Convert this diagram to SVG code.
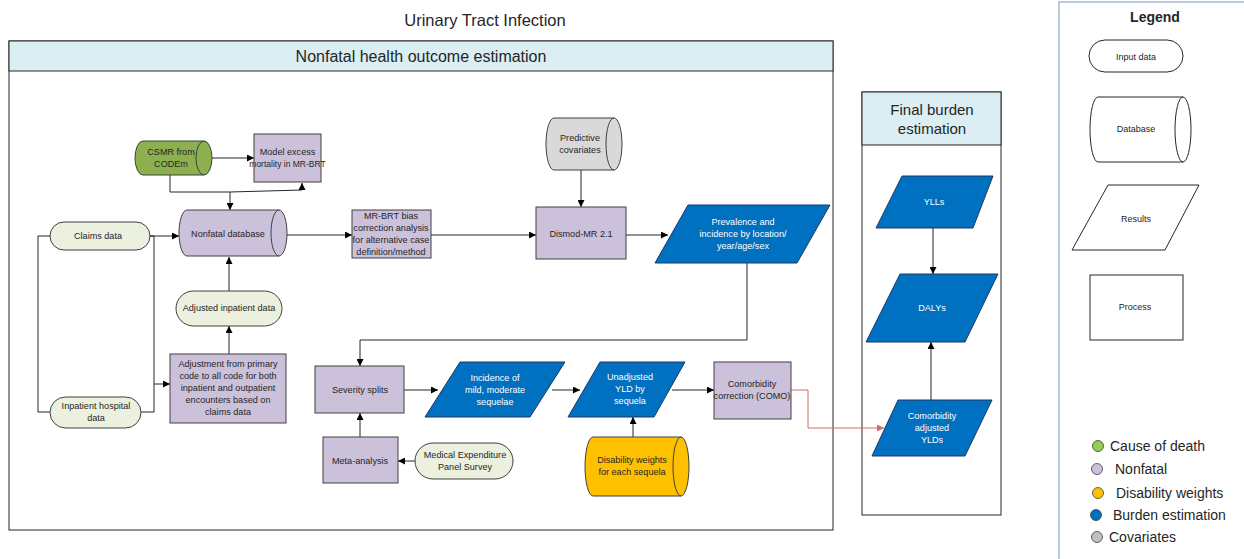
<svg xmlns="http://www.w3.org/2000/svg" width="1244" height="559" viewBox="0 0 1244 559">
<defs>
<marker id="ah" viewBox="0 0 10 10" refX="10" refY="5" markerWidth="7" markerHeight="7" orient="auto" markerUnits="userSpaceOnUse"><path d="M0,0 L10,5 L0,10 Z" fill="#000"/></marker>
<marker id="ahr" viewBox="0 0 10 10" refX="10" refY="5" markerWidth="7" markerHeight="7" orient="auto" markerUnits="userSpaceOnUse"><path d="M0,0 L10,5 L0,10 Z" fill="#D46A6A"/></marker>
<style>
text{font-family:"Liberation Sans",Arial,sans-serif;fill:#262626;text-anchor:middle;dominant-baseline:central}
.t{font-size:9.1px}
.w{fill:#fff}
.proc{fill:#CCC1DA;stroke:#404040;stroke-width:1}
.inp{fill:#EBF1DE;stroke:#404040;stroke-width:1}
.res{fill:#0070C0;stroke:#1F3864;stroke-width:1}
.leg{fill:#fff;stroke:#262626;stroke-width:1}
.lt{font-size:9px}
.ll{font-size:14px;text-anchor:start}
.dot{stroke:#404040;stroke-width:0.8}
.c{fill:none;stroke:#262626;stroke-width:1}
.ca{fill:none;stroke:#262626;stroke-width:1;marker-end:url(#ah)}
</style>
</defs>
<rect width="1244" height="559" fill="#fff"/>
<text x="485" y="20" style="font-size:16.5px">Urinary Tract Infection</text>

<g id="frame-nonfatal">
<rect x="9" y="41" width="824" height="489" fill="#fff" stroke="#262626" stroke-width="1"/>
<rect x="9" y="41" width="824" height="30" fill="#DAEEF3" stroke="#262626" stroke-width="1"/>
<text x="421" y="56" style="font-size:16px">Nonfatal health outcome estimation</text>
</g>
<g id="frame-final">
<rect x="862" y="92" width="139" height="423" fill="#fff" stroke="#262626" stroke-width="1"/>
<rect x="862" y="92" width="139" height="53" fill="#DAEEF3" stroke="#262626" stroke-width="1"/>
<text x="932" y="109" style="font-size:15px">Final burden</text>
<text x="932" y="128" style="font-size:15px">estimation</text>
</g>

<g id="connectors">
<path class="ca" d="M212,158 L254,158"/>
<path class="c" d="M170,175 L170,192 L230,192"/>
<path class="ca" d="M230,192 L230,210"/>
<path class="ca" d="M230,192 L302,190 L302,183"/>
<path class="ca" d="M150,236 L179,236"/>
<path class="c" d="M50,236 L38,236 L38,412 L50,412"/>
<path class="c" d="M150,236 L154,236 L154,412 L141,412"/>
<path class="ca" d="M154,384 L170,384"/>
<path class="ca" d="M229,354 L229,326"/>
<path class="ca" d="M229,291 L229,257"/>
<path class="ca" d="M287,235 L352,235"/>
<path class="ca" d="M431,235 L536,235"/>
<path class="ca" d="M581,170 L581,207"/>
<path class="ca" d="M626,235 L668,235"/>
<path class="ca" d="M747,263 L747,340 L360,340 L360,366"/>
<path class="ca" d="M404,390 L438,390"/>
<path class="ca" d="M552,390 L580,390"/>
<path class="ca" d="M672,390 L714,390"/>
<path class="ca" d="M360,437 L360,413"/>
<path class="ca" d="M415,461 L398,461"/>
<path class="ca" d="M633,437 L633,417"/>
<path fill="none" stroke="#D46A6A" stroke-width="1" marker-end="url(#ahr)" d="M791,390 L808,390 L808,428 L884,428"/>
<path class="ca" d="M933,228 L933,274"/>
<path class="ca" d="M931,400 L931,342"/>
</g>

<g id="csmr">
<path d="M143,141 L204,141 A8,17 0 0 1 204,175 L143,175 A8,17 0 0 1 143,141 Z" fill="#8DB04E" stroke="#404040"/>
<path d="M204,141 A8,17 0 0 0 204,175" fill="none" stroke="#404040"/>
<text x="171" y="152" class="t">CSMR from</text>
<text x="171" y="164" class="t">CODEm</text>
</g>
<g id="model-excess">
<rect x="254" y="134" width="67" height="48" class="proc"/>
<text x="287.5" y="152" class="t">Model excess</text>
<text x="287.5" y="164" class="t" style="font-size:8.5px">mortality in MR-BRT</text>
</g>
<g id="claims">
<rect x="50" y="222" width="100" height="28" rx="14" class="inp"/>
<text x="98" y="236" class="t">Claims data</text>
</g>
<g id="nonfatal-db">
<path d="M187,210 L279,210 A8,23 0 0 1 279,256 L187,256 A8,23 0 0 1 187,210 Z" class="proc"/>
<path d="M279,210 A8,23 0 0 0 279,256" fill="none" stroke="#404040"/>
<text x="228" y="234" class="t">Nonfatal database</text>
</g>
<g id="mrbrt-bias">
<rect x="352" y="210" width="79" height="48" class="proc"/>
<text x="391" y="216" class="t">MR-BRT bias</text>
<text x="391" y="228" class="t">correction analysis</text>
<text x="391" y="240" class="t">for alternative case</text>
<text x="391" y="252" class="t">definition/method</text>
</g>
<g id="covariates">
<path d="M554,118 L614,118 A8,26 0 0 1 614,170 L554,170 A8,26 0 0 1 554,118 Z" fill="#D9D9D9" stroke="#404040"/>
<path d="M614,118 A8,26 0 0 0 614,170" fill="none" stroke="#404040"/>
<text x="580" y="138" class="t">Predictive</text>
<text x="580" y="150" class="t">covariates</text>
</g>
<g id="dismod">
<rect x="536" y="207" width="90" height="52" class="proc"/>
<text x="581" y="234" class="t">Dismod-MR 2.1</text>
</g>
<g id="prevalence">
<path d="M688,205 L830,205 L797,263 L655,263 Z" class="res"/>
<text x="743" y="222" class="t w">Prevalence and</text>
<text x="743" y="234" class="t w">incidence by location/</text>
<text x="743" y="246" class="t w">year/age/sex</text>
</g>
<g id="adjusted-inpatient">
<rect x="176" y="291" width="106" height="35" rx="17.5" class="inp"/>
<text x="229" y="308" class="t">Adjusted inpatient data</text>
</g>
<g id="adjustment">
<rect x="170" y="354" width="116" height="69" class="proc"/>
<text x="228" y="364" class="t">Adjustment from primary</text>
<text x="228" y="376" class="t">code to all code for both</text>
<text x="228" y="388" class="t">inpatient and outpatient</text>
<text x="228" y="400" class="t">encounters based on</text>
<text x="228" y="412" class="t">claims data</text>
</g>
<g id="inpatient-hospital">
<rect x="50" y="397" width="91" height="31" rx="15.5" class="inp"/>
<text x="96" y="406" class="t">Inpatient hospital</text>
<text x="96" y="418" class="t">data</text>
</g>
<g id="severity">
<rect x="315" y="366" width="89" height="47" class="proc"/>
<text x="360" y="390" class="t">Severity splits</text>
</g>
<g id="incidence">
<path d="M460,362 L565,362 L530,417 L425,417 Z" class="res"/>
<text x="495" y="378" class="t w">Incidence of</text>
<text x="495" y="390" class="t w">mild, moderate</text>
<text x="495" y="402" class="t w">sequelae</text>
</g>
<g id="unadjusted">
<path d="M600,362 L685,362 L654,417 L568,417 Z" class="res"/>
<text x="630" y="377" class="t w">Unadjusted</text>
<text x="630" y="389" class="t w">YLD by</text>
<text x="630" y="401" class="t w">sequela</text>
</g>
<g id="como">
<rect x="714" y="362" width="77" height="57" class="proc"/>
<text x="752" y="384" class="t">Comorbidity</text>
<text x="752" y="396" class="t">correction (COMO)</text>
</g>
<g id="meta">
<rect x="323" y="437" width="75" height="46" class="proc"/>
<text x="360" y="461" class="t">Meta-analysis</text>
</g>
<g id="meps">
<rect x="415" y="443" width="98" height="36" rx="18" class="inp"/>
<text x="465" y="455" class="t">Medical Expenditure</text>
<text x="465" y="467" class="t">Panel Survey</text>
</g>
<g id="disability">
<path d="M593,437 L681,437 A8,29.5 0 0 1 681,496 L593,496 A8,29.5 0 0 1 593,437 Z" fill="#FFC000" stroke="#404040"/>
<path d="M681,437 A8,29.5 0 0 0 681,496" fill="none" stroke="#404040"/>
<text x="632" y="460" class="t">Disability weights</text>
<text x="632" y="472" class="t">for each sequela</text>
</g>
<g id="ylls">
<path d="M902,176 L993,176 L973,228 L876,228 Z" class="res"/>
<text x="934" y="202" class="t w">YLLs</text>
</g>
<g id="dalys">
<path d="M900,274 L998,274 L965,342 L866,342 Z" class="res"/>
<text x="932" y="308" class="t w">DALYs</text>
</g>
<g id="como-adjusted">
<path d="M898,400 L992,400 L965,456 L872,456 Z" class="res"/>
<text x="932" y="416" class="t w">Comorbidity</text>
<text x="932" y="428" class="t w">adjusted</text>
<text x="932" y="440" class="t w">YLDs</text>
</g>

<g id="legend">
<rect x="1059" y="2" width="200" height="570" fill="#fff" stroke="#8EAAC8" stroke-width="1.2"/>
<text x="1155" y="17" style="font-size:14px;font-weight:bold">Legend</text>
<rect x="1089" y="40" width="94" height="32" rx="16" class="leg"/>
<text x="1136" y="57" class="lt">Input data</text>
<path d="M1098,97 L1183,97 A8,32.5 0 0 1 1183,162 L1098,162 A8,32.5 0 0 1 1098,97 Z" class="leg"/>
<path d="M1183,97 A8,32.5 0 0 0 1183,162" fill="none" stroke="#262626"/>
<text x="1136" y="129" class="lt">Database</text>
<path d="M1108,185 L1199,185 L1165,250 L1072,250 Z" class="leg"/>
<text x="1136" y="219" class="lt">Results</text>
<rect x="1090" y="275" width="93" height="65" class="leg"/>
<text x="1135" y="307" class="lt">Process</text>
<circle cx="1098" cy="446" r="5.5" fill="#92D050" class="dot"/>
<circle cx="1097" cy="469" r="5.5" fill="#CCC1DA" class="dot"/>
<circle cx="1098" cy="493" r="5.5" fill="#FFC000" class="dot"/>
<circle cx="1096" cy="515" r="5.5" fill="#0070C0" class="dot"/>
<circle cx="1097" cy="537" r="5.5" fill="#BFBFBF" class="dot"/>
<text x="1110" y="446" class="ll">Cause of death</text>
<text x="1115" y="469" class="ll">Nonfatal</text>
<text x="1116" y="493" class="ll">Disability weights</text>
<text x="1113" y="515" class="ll">Burden estimation</text>
<text x="1109" y="537" class="ll">Covariates</text>
</g>
</svg>
